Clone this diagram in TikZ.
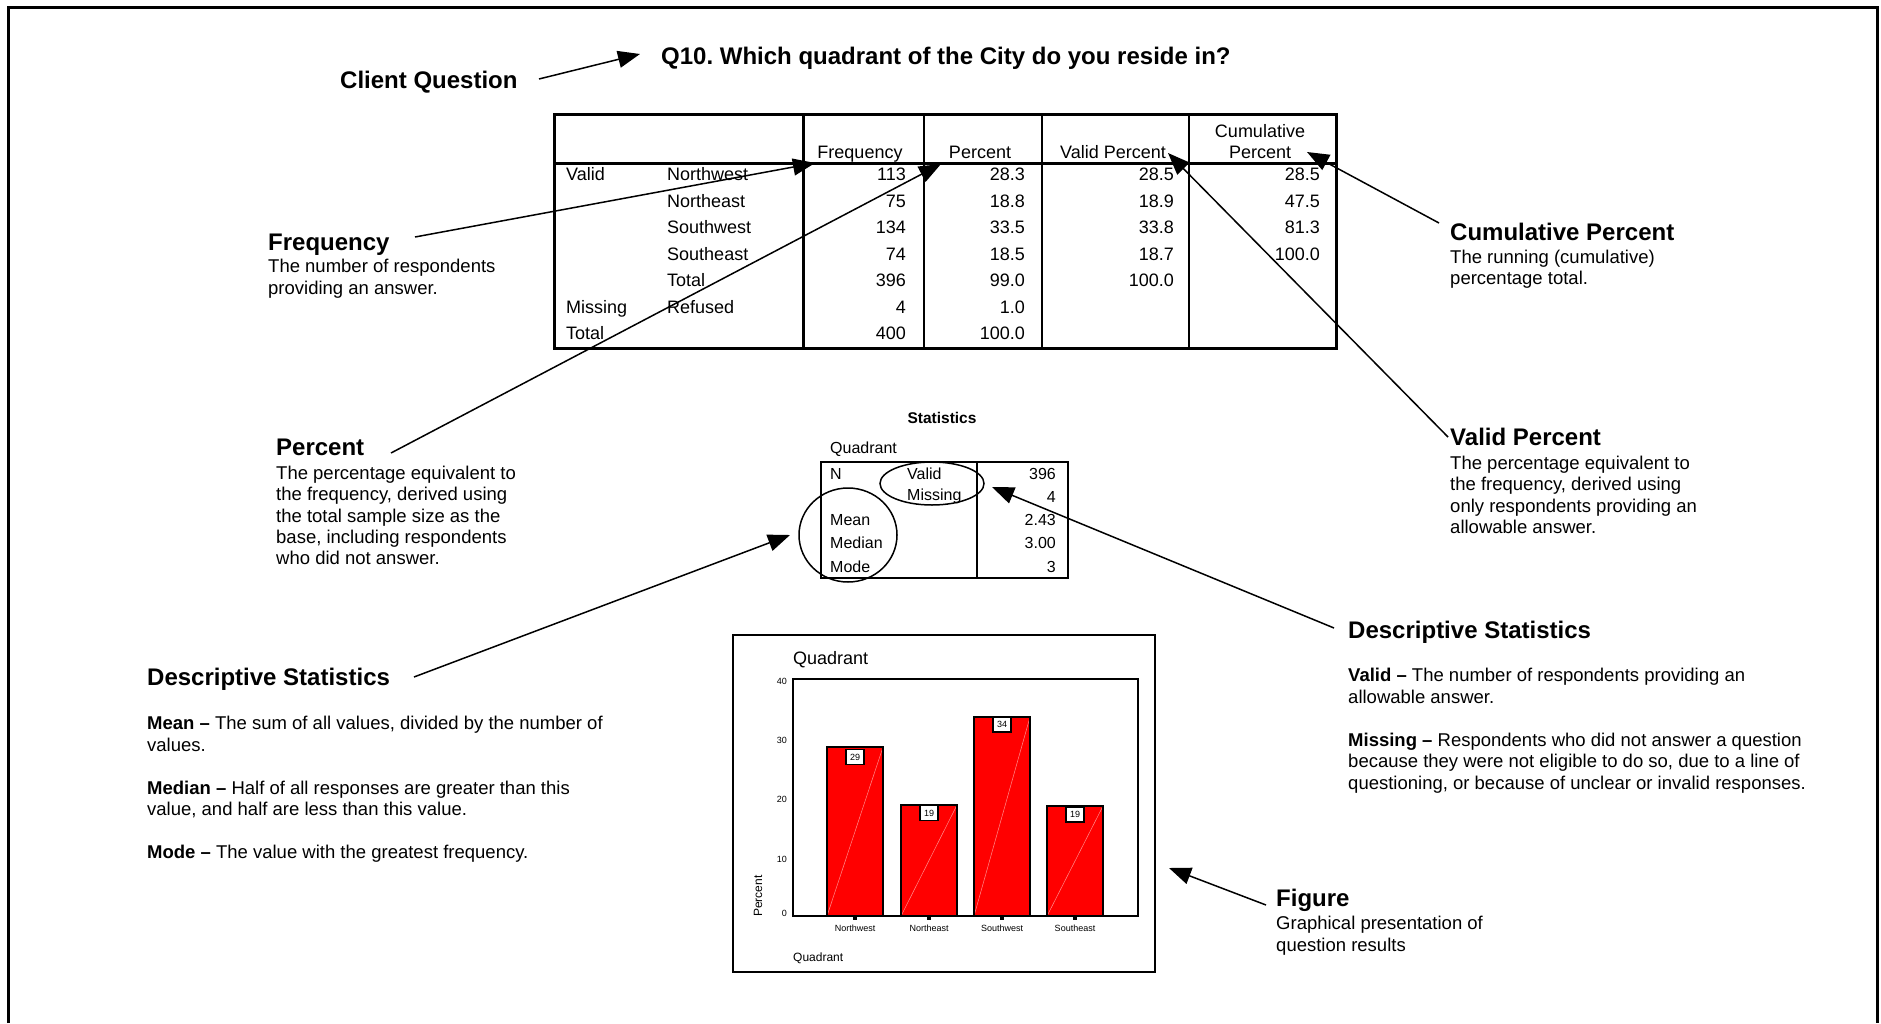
\documentclass[tikz,border=0pt]{standalone}
\usepackage{fontspec}
\setmainfont{Liberation Sans}
\usetikzlibrary{arrows.meta}
\frenchspacing
\begin{document}
\begin{tikzpicture}[x=1pt,y=-1pt,
  head/.style={font=\bfseries\fontsize{24}{28}\selectfont, inner sep=0pt, anchor=base west},
  body/.style={font=\fontsize{18.5}{21.5}\selectfont, inner sep=0pt, anchor=base west},
  tcell/.style={font=\fontsize{18}{21}\selectfont, inner sep=0pt},
  scell/.style={font=\fontsize{16}{19}\selectfont, inner sep=0pt},
  tiny/.style={font=\fontsize{9}{10}\selectfont, inner sep=0pt},
  arr/.style={line width=1.5pt, -{Triangle[length=22pt,width=17pt]}},
  thick3/.style={line width=3pt},
  thin15/.style={line width=1.5pt},
  diag/.style={draw=red!45!white, line width=0.5pt},
  vbox/.style={fill=white, draw=black, line width=1.2pt, minimum width=18pt, minimum height=15pt, inner sep=0pt, font=\fontsize{9}{10}\selectfont}
]
\useasboundingbox (0,0) rectangle (1881,1023);
\fill[white] (0,0) rectangle (1881,1023);
% frame
\draw[line width=3pt] (8,1023) -- (8,7) -- (1877,7) -- (1877,1023);

% title and client question
\node[head] (title) at (661,64.6) {Q10. Which quadrant of the City do you reside in?};
\node[head] (client) at (340,88.6) {Client Question};

% ---------- main table ----------
\draw[thick3] (554,114) rectangle (1336,348);
\draw[thick3] (554,163) -- (1336,163);
\draw[thick3] (803,114) -- (803,348);
\draw[thin15] (924,114) -- (924,348);
\draw[thin15] (1042,114) -- (1042,348);
\draw[thin15] (1189,114) -- (1189,348);

\node[tcell, anchor=base] (hFreq) at (860,158) {Frequency};
\node[tcell, anchor=base] (hPct) at (980,158) {Percent};
\node[tcell, anchor=base] (hValid) at (1113,158) {Valid Percent};
\node[tcell, anchor=base] (hCum1) at (1260,137) {Cumulative};
\node[tcell, anchor=base] (hCum2) at (1260,158) {Percent};

\node[tcell, anchor=base west] (rValid) at (566,180.5) {Valid};
\node[tcell, anchor=base west] (rMissing) at (566,313) {Missing};
\node[tcell, anchor=base west] (rTotal) at (566,339.5) {Total};
\foreach \v [count=\k] in {Northwest,Northeast,Southwest,Southeast,Total,Refused}
  \node[tcell, anchor=base west] (rl\k) at (667,{180.5+26.5*(\k-1)}) {\v};
\foreach \v [count=\k] in {113,75,134,74,396,4,400}
  \node[tcell, anchor=base east] (fq\k) at (906,{180.5+26.5*(\k-1)}) {\v};
\foreach \v [count=\k] in {28.3,18.8,33.5,18.5,99.0,1.0,100.0}
  \node[tcell, anchor=base east] (pc\k) at (1025,{180.5+26.5*(\k-1)}) {\v};
\foreach \v [count=\k] in {28.5,18.9,33.8,18.7,100.0}
  \node[tcell, anchor=base east] (vp\k) at (1174,{180.5+26.5*(\k-1)}) {\v};
\foreach \v [count=\k] in {28.5,47.5,81.3,100.0}
  \node[tcell, anchor=base east] (cp\k) at (1320,{180.5+26.5*(\k-1)}) {\v};

% ---------- statistics box ----------
\node[font=\bfseries\fontsize{15.5}{18}\selectfont, inner sep=0pt, anchor=base] (stTitle) at (942,423.6) {Statistics};
\node[scell, anchor=base west] (stQuad) at (830,453) {Quadrant};
\draw[line width=2.5pt] (821,462) rectangle (1068,578);
\draw[line width=2.5pt] (977,462) -- (977,578);
\node[scell, anchor=base west] (sN) at (830,479) {N};
\node[scell, anchor=base west] (sValid) at (907,479) {Valid};
\node[scell, anchor=base west] (sMiss) at (907,500.5) {Missing};
\node[scell, anchor=base west] (sMean) at (830,525.6) {Mean};
\node[scell, anchor=base west] (sMed) at (830,548.9) {Median};
\node[scell, anchor=base west] (sMode) at (830,572.2) {Mode};
\foreach \v [count=\k] in {396,4,2.43,3.00,3}
  \node[scell, anchor=base east] (sv\k) at (1056,{479+23.3*(\k-1)}) {\v};
\draw[line width=1.5pt] (932,483.5) ellipse [x radius=52pt, y radius=21.5pt];
\draw[line width=1.5pt] (848,535) ellipse [x radius=49pt, y radius=47pt];

% ---------- left texts ----------
\node[head] (lFreq) at (268,250.6) {Frequency};
\node[body] (lFreq1) at (268,272.5) {The number of respondents};
\node[body] (lFreq2) at (268,294) {providing an answer.};

\node[head] (lPct) at (276,455.6) {Percent};
\foreach \t [count=\k] in {The percentage equivalent to,{the frequency, derived using},the total sample size as the,{base, including respondents},who did not answer.}
  \node[body] (lPct\k) at (276,{479.5+21.3*(\k-1)}) {\t};

\node[head] (lDS) at (147,685.6) {Descriptive Statistics};
\node[body] (lDS1) at (147,729.5) {\textbf{Mean –} The sum of all values, divided by the number of};
\node[body] (lDS2) at (147,751) {values.};
\node[body] (lDS3) at (147,794) {\textbf{Median –} Half of all responses are greater than this};
\node[body] (lDS4) at (147,815.5) {value, and half are less than this value.};
\node[body] (lDS5) at (147,858.5) {\textbf{Mode –} The value with the greatest frequency.};

% ---------- right texts ----------
\node[head] (rCum) at (1450,240.6) {Cumulative Percent};
\node[body] (rCum1) at (1450,263.5) {The running (cumulative)};
\node[body] (rCum2) at (1450,284.5) {percentage total.};

\node[head] (rVP) at (1450,445.6) {Valid Percent};
\foreach \t [count=\k] in {The percentage equivalent to,{the frequency, derived using},only respondents providing an,allowable answer.}
  \node[body] (rVP\k) at (1450,{469.5+21.3*(\k-1)}) {\t};

\node[head] (rDS) at (1348,638.6) {Descriptive Statistics};
\node[body] (rDS1) at (1348,681.5) {\textbf{Valid –} The number of respondents providing an};
\node[body] (rDS2) at (1348,703) {allowable answer.};
\node[body] (rDS3) at (1348,746) {\textbf{Missing –} Respondents who did not answer a question};
\node[body] (rDS4) at (1348,767.5) {because they were not eligible to do so, due to a line of};
\node[body] (rDS5) at (1348,789) {questioning, or because of unclear or invalid responses.};

\node[head] (rFig) at (1276,906.6) {Figure};
\node[body] (rFig1) at (1276,929.5) {Graphical presentation of};
\node[body] (rFig2) at (1276,951.5) {question results};

% ---------- chart ----------
\draw[line width=1.2pt] (733,635) rectangle (1155,972);
\node[font=\fontsize{18}{21}\selectfont, inner sep=0pt, anchor=base west] (chTitle) at (793,664.5) {Quadrant};
\foreach \x/\h in {827/747,901/805,974/717,1047/806}{
  \fill[red] (\x,916) rectangle ({\x+56},\h);
  \draw[diag] (\x,916) -- ({\x+56},\h);
  \draw[black, line width=1.5pt] (\x,916) rectangle ({\x+56},\h);
  \fill[black] ({\x+26},915) rectangle ({\x+30},920);
}
\draw[line width=2pt] (793,679) rectangle (1138,916);
\node[vbox] (bv1) at (855,757) {29};
\node[vbox] (bv2) at (929,813) {19};
\node[vbox] (bv3) at (1002,724.5) {34};
\node[vbox] (bv4) at (1075,814.5) {19};
\foreach \v/\y in {40/681,30/740,20/799,10/859,0/913}
  \node[tiny, anchor=east] (yt\v) at (787,\y) {\v};
\foreach \t/\x [count=\k] in {Northwest/855,Northeast/929,Southwest/1002,Southeast/1075}
  \node[tiny] (xc\k) at (\x,928) {\t};
\node[font=\fontsize{12}{14}\selectfont, inner sep=0pt, rotate=90] (yLab) at (758,896) {Percent};
\node[font=\fontsize{12}{14}\selectfont, inner sep=0pt, anchor=base west] (xLab) at (793,961) {Quadrant};

% ---------- connectors ----------
\coordinate (cqS) at (539,79);   \coordinate (cqT) at (640,54);
\coordinate (frS) at (415,237);  \coordinate (frT) at (815,163);
\coordinate (pcS) at (391,453);  \coordinate (pcT) at (941,164);
\coordinate (vpS) at (1448,437); \coordinate (vpT) at (1168,153);
\coordinate (cuS) at (1439,223); \coordinate (cuT) at (1307,152);
\coordinate (dlS) at (414,677);  \coordinate (dlT) at (790,535);
\coordinate (drS) at (1334,628); \coordinate (drT) at (992,487);
\coordinate (fgS) at (1266,905); \coordinate (fgT) at (1169,868);
\draw[arr] (cqS) -- (cqT);
\draw[arr] (frS) -- (frT);
\draw[arr] (pcS) -- (pcT);
\draw[arr] (vpS) -- (vpT);
\draw[arr] (cuS) -- (cuT);
\draw[arr] (dlS) -- (dlT);
\draw[arr] (drS) -- (drT);
\draw[arr] (fgS) -- (fgT);
\end{tikzpicture}
\end{document}
